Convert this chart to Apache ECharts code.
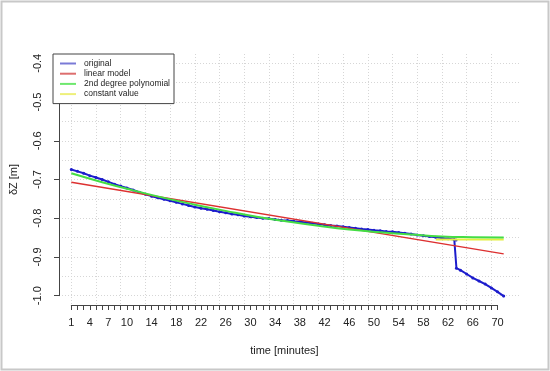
<!DOCTYPE html>
<html><head><meta charset="utf-8">
<script src="https://cdn.jsdelivr.net/npm/echarts@6/dist/echarts.min.js"></script>
<style>html,body{margin:0;padding:0;background:#fff}#c{width:550px;height:371px}</style>
</head><body><div id="c"></div>
<script>
// ---- data ----
const origTime = [1,2,3,4,5,6,7,8,9,10,11,12,13,14,15,16,17,18,19,20,21,22,23,24,25,26,27,28,29,30,31,32,33,34,35,36,37,38,39,40,41,42,43,44,45,46,47,48,49,50,51,52,53,54,55,56,57,58,59,60,61,62,63,63.3,63.35,64,65,66,67,68,69,70,71];
const origValue = [-0.674,-0.679,-0.684,-0.690,-0.695,-0.700,-0.706,-0.712,-0.717,-0.722,-0.727,-0.733,-0.738,-0.743,-0.747,-0.751,-0.755,-0.759,-0.763,-0.767,-0.771,-0.774,-0.777,-0.780,-0.783,-0.786,-0.789,-0.791,-0.794,-0.796,-0.798,-0.800,-0.801,-0.803,-0.805,-0.806,-0.808,-0.809,-0.811,-0.813,-0.815,-0.817,-0.819,-0.820,-0.822,-0.824,-0.826,-0.828,-0.829,-0.831,-0.832,-0.834,-0.835,-0.837,-0.839,-0.841,-0.843,-0.845,-0.847,-0.849,-0.851,-0.853,-0.855,-0.856,-0.929,-0.934,-0.944,-0.954,-0.962,-0.970,-0.980,-0.990,-1.001];
const linTime = [1, 71];
const linValue = [-0.707, -0.892];
const polyTime = [1,6,11,16,21,26,31,36,41,46,51,56,61,66,71];
const polyValue = [-0.684,-0.707,-0.728,-0.7475,-0.765,-0.781,-0.796,-0.8085,-0.8195,-0.829,-0.836,-0.842,-0.847,-0.849,-0.850];
const constTime = [60, 71];
const constValue = [-0.855, -0.855];
const xTickLabels = [1,4,7,10,14,18,22,26,30,34,38,42,46,50,54,58,62,66,70];
const seriesNames = ['original','linear model','2nd degree polynomial','constant value'];
const legendColors = ['#7a7ad6','#dd6e6e','#6ee86e','#eef07a'];

const pairs = (t, v) => t.map((x, i) => [x, v[i]]);
const font = "'Liberation Sans', Arial, sans-serif";
const gridStyle = {color:'#d6d6d6', type:[1,2], width:1};

const chart = echarts.init(document.getElementById('c'), null, {renderer:'canvas'});
chart.setOption({
  animation:false,
  backgroundColor:'#fff',
  textStyle:{fontFamily:font},
  graphic:[{type:'rect', shape:{x:1.5,y:1.5,width:547,height:368}, style:{fill:'none', stroke:'#c8c8c8', lineWidth:2}, silent:true, z:-10}],
  grid:[
    {left:54, right:29, top:54, bottom:66},          // data
    {left:71.3, right:52.5, top:54, bottom:66},      // x axis 1..70
    {left:71.3, right:58.7, top:54, bottom:66},      // vertical grid 1..69
    {left:54, right:29, top:63.3, bottom:75.3}       // y axis -1..-0.4
  ],
  xAxis:[
    {gridIndex:0, type:'value', min:-1.8, max:73.8, show:false},
    {gridIndex:1, type:'value', min:1, max:70, interval:1,
      axisLine:{show:true, onZero:false, lineStyle:{color:'#444', width:1}},
      axisTick:{show:true, length:5, inside:false, lineStyle:{color:'#444'}},
      axisLabel:{show:true, margin:12, fontSize:11, color:'#222', fontFamily:font,
        formatter:v => xTickLabels.indexOf(Math.round(v)) >= 0 && Math.abs(v-Math.round(v))<1e-6 ? String(Math.round(v)) : ''},
      splitLine:{show:false},
      name:'time [minutes]', nameLocation:'middle', nameGap:40,
      nameTextStyle:{fontSize:11, color:'#222', fontFamily:font}},
    {gridIndex:2, type:'value', min:1, max:69, interval:4,
      axisLine:{show:false}, axisTick:{show:false}, axisLabel:{show:false},
      splitLine:{show:true, lineStyle:gridStyle}},
    {gridIndex:3, type:'value', min:0, max:1, show:false}
  ],
  yAxis:[
    {gridIndex:0, type:'value', min:-1.024, max:-0.376, show:false},
    {gridIndex:1, type:'value', min:0, max:1, show:false},
    {gridIndex:2, type:'value', min:0, max:1, show:false},
    {gridIndex:3, type:'value', min:-1.0, max:-0.4, interval:0.1,
      axisLine:{show:true, onZero:false, lineStyle:{color:'#444', width:1}},
      axisTick:{show:true, length:5, lineStyle:{color:'#444'}},
      axisLabel:{show:true, rotate:90, margin:16, fontSize:11, color:'#222', fontFamily:font,
        formatter:v => v.toFixed(1)},
      splitLine:{show:true, lineStyle:gridStyle},
      minorTick:{show:false, splitNumber:2},
      minorSplitLine:{show:true, lineStyle:gridStyle},
      name:'δZ [m]', nameLocation:'middle', nameRotate:90, nameGap:40,
      nameTextStyle:{fontSize:11, color:'#222', fontFamily:font}}
  ],
  legend:{
    left:53, top:54, orient:'vertical',
    backgroundColor:'#fff', borderColor:'#444', borderWidth:1, borderRadius:0,
    padding:[5,4,5,7], itemGap:1.2, itemWidth:16, itemHeight:2,
    textStyle:{fontSize:8.5, lineHeight:8.5, color:'#222', fontFamily:font, padding:[0,0,0,3]},
    data:seriesNames.map((n, i) => ({name:n, icon:'rect',
      itemStyle:{color:legendColors[i], borderWidth:0}}))
  },
  series:[
    {name:seriesNames[0], type:'line', xAxisIndex:0, yAxisIndex:0, data:pairs(origTime, origValue),
      symbol:'circle', symbolSize:3, showSymbol:true, color:'#1c1ccc',
      lineStyle:{width:2, color:'#1c1ccc', join:'round', cap:'round'}, itemStyle:{color:'#1c1ccc'}, z:2},
    {name:seriesNames[1], type:'line', xAxisIndex:0, yAxisIndex:0, data:pairs(linTime, linValue),
      symbol:'none', color:'#dd3030', lineStyle:{width:1.5, color:'#dd3030'}, z:3},
    {name:seriesNames[2], type:'line', xAxisIndex:0, yAxisIndex:0, data:pairs(polyTime, polyValue),
      symbol:'none', smooth:true, color:'#44dd44', lineStyle:{width:2, color:'#44dd44'}, z:4},
    {name:seriesNames[3], type:'line', xAxisIndex:0, yAxisIndex:0, data:pairs(constTime, constValue),
      symbol:'none', color:'#e4f040', lineStyle:{width:2, color:'#e4f040'}, z:3}
  ]
});
</script></body></html>
